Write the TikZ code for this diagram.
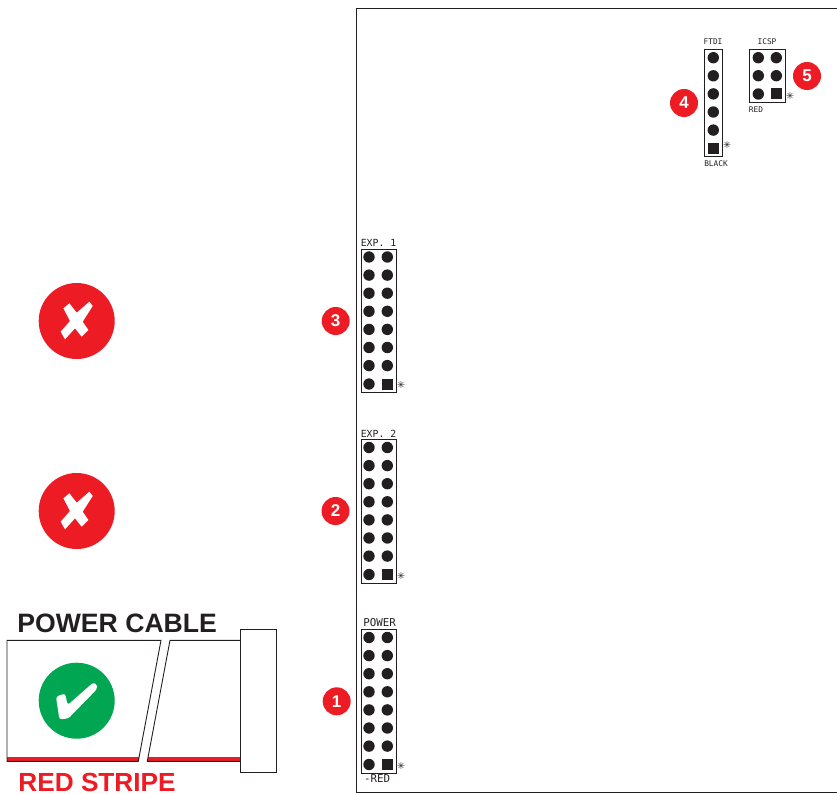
\documentclass[tikz,border=0pt]{standalone}
\usepackage{fontspec}
\setmainfont{Liberation Sans}
\newfontfamily\silkfont{DejaVu Sans Mono}
\newfontfamily\symfont{DejaVu Sans}
\definecolor{badgered}{HTML}{ED1C24}
\definecolor{okgreen}{HTML}{00A651}
\definecolor{inkblack}{HTML}{231F20}

\begin{document}
\begin{tikzpicture}[x=1pt, y=-1pt, line width=0.9pt, draw=inkblack,
  badgenode/.style={circle, fill=badgered, text=white, inner sep=0pt, minimum size=28pt, font=\bfseries\fontsize{17}{17}\selectfont},
  bignode/.style={circle, inner sep=0pt, minimum size=76pt},
  pinnode/.style={circle, fill=inkblack, inner sep=0pt, minimum size=11.4pt},
  squarenode/.style={rectangle, fill=inkblack, inner sep=0pt, minimum size=11pt},
  silknode/.style={inner sep=0pt, text=inkblack, font=\silkfont\fontsize{9.8}{9.8}\selectfont},
  widenode/.style={inner sep=0pt, text=inkblack, font=\silkfont\fontsize{10.8}{10.8}\selectfont},
  tinynode/.style={inner sep=0pt, text=inkblack, font=\silkfont\fontsize{7.8}{7.8}\selectfont},
  starnode/.style={inner sep=0pt, text=inkblack, font=\symfont\bfseries\fontsize{9.5}{9.5}\selectfont},
  titlenode/.style={anchor=west, inner sep=0pt, font=\bfseries\fontsize{26.6}{26.6}\selectfont},
  stripenode/.style={anchor=west, inner sep=0pt, font=\bfseries\fontsize{26.2}{26.2}\selectfont}]
\useasboundingbox (0, 0) rectangle (837, 794);

% board outline
\draw (837, 8) -- (356, 8) -- (356, 792) -- (837, 792);

% the three long headers
\foreach \name/\top in {exp1/249, exp2/439.5, power/629.5} {
  \draw (361, \top) rectangle (396, \top+143.5);
  \foreach \row in {0,...,6} {
    \node[pinnode] (\name l\row) at (369, \top+8+18.1*\row) {};
    \node[pinnode] (\name r\row) at (387.3, \top+8+18.1*\row) {};
  }
  \node[pinnode] (\name l7) at (369, \top+135) {};
  \node[squarenode] (\name r7) at (387.3, \top+135) {};
  \node[starnode] (\name star) at (401, \top+136.5) {✳};
}
\node[silknode] (exp1label) at (378.5, 243) {EXP. 1};
\node[silknode] (exp2label) at (378.5, 433.5) {EXP. 2};
\node[widenode] (powerlabel) at (379.5, 623) {POWER};
\node[widenode] (redlabel) at (377, 779) {-RED};

% FTDI
\draw (704.7, 49.3) rectangle (722, 156.7);
\foreach \row in {0,...,4} {
  \node[pinnode] (ftdi\row) at (713.3, 57.7+18.1*\row) {};
}
\node[squarenode] (ftdi5) at (713.3, 148.3) {};
\node[starnode] (ftdistar) at (727, 145.5) {✳};
\node[tinynode] (ftdilabel) at (713, 42) {FTDI};
\node[tinynode] (blacklabel) at (716, 164) {BLACK};

% ICSP
\draw (749.7, 49.3) rectangle (785.3, 102.3);
\node[pinnode] (icsp1) at (758.3, 57.7) {};
\node[pinnode] (icsp2) at (776.3, 57.7) {};
\node[pinnode] (icsp3) at (758.3, 75.7) {};
\node[pinnode] (icsp4) at (776.3, 75.7) {};
\node[pinnode] (icsp5) at (758.3, 94) {};
\node[squarenode] (icsp6) at (776.3, 94) {};
\node[starnode] (icspstar) at (790, 96) {✳};
\node[tinynode] (icsplabel) at (767, 42) {ICSP};
\node[tinynode] (redicsp) at (756, 110) {RED};

% numbered badges
\node[badgenode] (one) at (336.7, 701.3) {1};
\node[badgenode] (two) at (335.5, 511) {2};
\node[badgenode] (three) at (335.7, 321) {3};
\node[badgenode] (four) at (684, 103) {4};
\node[badgenode] (five) at (807, 76) {5};

% cross marks
\node[bignode, fill=badgered] (bad1) at (76.7, 321) {};
\node[bignode, fill=badgered] (bad2) at (76.7, 511) {};
\foreach \mark in {bad1, bad2} {
  \fill[white, shift={(\mark.center)}] (-13.3, -12.7) -- (-7.3, -17.7) -- (0, -8.3) -- (12.7, -19.3) -- (16, -15) -- (6, 0.7) -- (11.7, 9) -- (5, 15.7) -- (-1.7, 7.3) -- (-11.7, 18.3) -- (-16, 10.7) -- (-6.7, 0) -- cycle;
}

% cable
\fill[badgered] (7, 756.8) rectangle (139.2, 761.3);
\fill[badgered] (148.2, 756.8) rectangle (240.7, 761.3);
\draw (7, 640.3) -- (161, 640.3) -- (138.3, 761.3) -- (7, 761.3) -- cycle;
\draw (240.7, 640.3) -- (170, 640.3) -- (147.3, 761.3) -- (240.7, 761.3);
\node[draw, minimum width=35.3pt, minimum height=143pt, inner sep=0pt] (plug) at (258.4, 700.8) {};
\node[titlenode, text=inkblack] (cablelabel) at (17, 623.3) {POWER CABLE};
\node[stripenode, text=badgered] (stripelabel) at (18, 782) {RED STRIPE};

% tick mark
\node[bignode, fill=okgreen] (good) at (76.7, 700.7) {};
\fill[white, shift={(good.center)}, rounded corners=2.5pt] (-20.7, -4) -- (-11.7, -7.3) -- (-9, 4.3) -- (16.7, -18.3) -- (20.7, -15.7) -- (20, -11.3) -- (-8.3, 17.7) -- (-17.3, 18.7) -- cycle;
\end{tikzpicture}
\end{document}
